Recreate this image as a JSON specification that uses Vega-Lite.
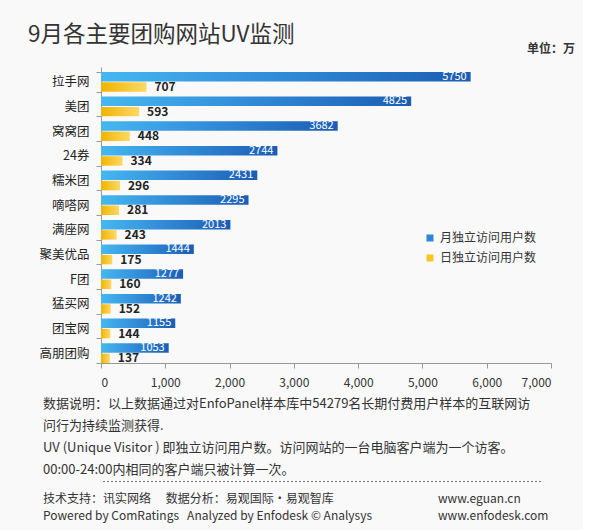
{
  "$schema": "https://vega.github.io/schema/vega-lite/v6.json",
  "background": "#f9f9f9",
  "padding": {"left": 27, "top": 23, "right": 8, "bottom": 4},
  "title": {"text": "9月各主要团购网站UV监测", "anchor": "start", "fontSize": 22.5, "font": "Noto Sans CJK SC", "fontWeight": "normal", "color": "#333333", "dx": -11, "offset": -3},
  "spacing": 0,
  "vconcat": [
    {
      "width": 450,
      "height": 296,
      "title": {"text": "单位：万", "anchor": "end", "frame": "group", "fontSize": 12, "fontWeight": "bold", "color": "#333333", "dx": 24, "offset": 5},
      "data": {"values": [
        {"site": "拉手网", "series": "月独立访问用户数", "value": 5750},
        {"site": "拉手网", "series": "日独立访问用户数", "value": 707},
        {"site": "美团", "series": "月独立访问用户数", "value": 4825},
        {"site": "美团", "series": "日独立访问用户数", "value": 593},
        {"site": "窝窝团", "series": "月独立访问用户数", "value": 3682},
        {"site": "窝窝团", "series": "日独立访问用户数", "value": 448},
        {"site": "24券", "series": "月独立访问用户数", "value": 2744},
        {"site": "24券", "series": "日独立访问用户数", "value": 334},
        {"site": "糯米团", "series": "月独立访问用户数", "value": 2431},
        {"site": "糯米团", "series": "日独立访问用户数", "value": 296},
        {"site": "嘀嗒网", "series": "月独立访问用户数", "value": 2295},
        {"site": "嘀嗒网", "series": "日独立访问用户数", "value": 281},
        {"site": "满座网", "series": "月独立访问用户数", "value": 2013},
        {"site": "满座网", "series": "日独立访问用户数", "value": 243},
        {"site": "聚美优品", "series": "月独立访问用户数", "value": 1444},
        {"site": "聚美优品", "series": "日独立访问用户数", "value": 175},
        {"site": "F团", "series": "月独立访问用户数", "value": 1277},
        {"site": "F团", "series": "日独立访问用户数", "value": 160},
        {"site": "猛买网", "series": "月独立访问用户数", "value": 1242},
        {"site": "猛买网", "series": "日独立访问用户数", "value": 152},
        {"site": "团宝网", "series": "月独立访问用户数", "value": 1155},
        {"site": "团宝网", "series": "日独立访问用户数", "value": 144},
        {"site": "高朋团购", "series": "月独立访问用户数", "value": 1053},
        {"site": "高朋团购", "series": "日独立访问用户数", "value": 137}
      ]},
      "encoding": {
        "y": {
          "field": "site", "type": "nominal", "sort": null,
          "scale": {"paddingInner": 0.2, "paddingOuter": 0.1, "align": 1},
          "axis": {"title": null, "labelFontSize": 12.5, "labelColor": "#222222", "domainColor": "#999999", "tickColor": "#999999", "tickSize": 5, "tickBand": "extent", "labelPadding": 7}
        },
        "x": {
          "field": "value", "type": "quantitative",
          "scale": {"domain": [0, 7000], "nice": false},
          "axis": {"title": null, "format": ",d", "values": [0, 1000, 2000, 3000, 4000, 5000, 6000, 7000], "grid": false, "labelFontSize": 12, "labelColor": "#333333", "domainColor": "#999999", "tickColor": "#999999", "tickSize": 5, "labelPadding": 9}
        },
        "yOffset": {"field": "series", "type": "nominal", "scale": {"domain": ["月独立访问用户数", "日独立访问用户数"], "paddingInner": 0.08}}
      },
      "layer": [
        {
          "transform": [{"filter": "datum.value < 0"}],
          "mark": {"type": "bar"},
          "encoding": {
            "color": {
              "field": "series", "type": "nominal",
              "scale": {"domain": ["月独立访问用户数", "日独立访问用户数"], "range": ["#2f86d6", "#f5c425"]},
              "legend": {"orient": "none", "legendX": 323, "legendY": 165, "title": null, "symbolType": "square", "symbolSize": 49, "symbolStrokeWidth": 0, "labelFontSize": 12, "labelColor": "#333333", "rowPadding": 8}
            }
          }
        },
        {
          "transform": [{"filter": "datum.series === '月独立访问用户数'"}],
          "mark": {"type": "bar", "color": {"gradient": "linear", "x1": 0, "x2": 1, "y1": 0, "y2": 0, "stops": [{"offset": 0, "color": "#45b8f0"}, {"offset": 0.4, "color": "#3592dc"}, {"offset": 1, "color": "#1b5db4"}]}}
        },
        {
          "transform": [{"filter": "datum.series === '日独立访问用户数'"}],
          "mark": {"type": "bar", "color": {"gradient": "linear", "x1": 0, "x2": 1, "y1": 0, "y2": 0, "stops": [{"offset": 0, "color": "#f0b400"}, {"offset": 1, "color": "#fdd865"}]}}
        },
        {
          "transform": [{"filter": "datum.series === '月独立访问用户数'"}],
          "mark": {"type": "text", "align": "right", "baseline": "middle", "dx": -4, "fontSize": 11, "color": "#ffffff"},
          "encoding": {"text": {"field": "value", "type": "quantitative", "format": "d"}}
        },
        {
          "transform": [{"filter": "datum.series === '日独立访问用户数'"}],
          "mark": {"type": "text", "align": "left", "baseline": "middle", "dx": 8, "fontSize": 12, "fontWeight": "bold", "color": "#222222"},
          "encoding": {"text": {"field": "value", "type": "quantitative", "format": "d"}}
        }
      ]
    },
    {
      "width": 440,
      "height": 138,
      "data": {"values": [
        {"line": 1, "col": "left", "size": "big", "text": "数据说明：以上数据通过对EnfoPanel样本库中54279名长期付费用户样本的互联网访"},
        {"line": 2, "col": "left", "size": "big", "text": "问行为持续监测获得."},
        {"line": 3, "col": "left", "size": "big", "text": "UV (Unique Visitor ) 即独立访问用户数。访问网站的一台电脑客户端为一个访客。"},
        {"line": 4, "col": "left", "size": "big", "text": "00:00-24:00内相同的客户端只被计算一次。"},
        {"line": 5.3, "col": "left", "size": "small", "text": "技术支持：讯实网络　 数据分析：易观国际·易观智库"},
        {"line": 5.28, "col": "right", "size": "small", "text": "www.eguan.cn"},
        {"line": 6.05, "col": "left", "size": "small", "text": "Powered by ComRatings\u00a0\u00a0\u00a0Analyzed by Enfodesk © Analysys"},
        {"line": 6.05, "col": "right", "size": "small", "text": "www.enfodesk.com"}
      ]},
      "layer": [
        {
          "mark": {"type": "text", "align": "left", "baseline": "middle", "color": "#333333"},
          "encoding": {
            "x": {"field": "col", "type": "nominal", "scale": {"type": "point", "domain": ["left", "right"], "range": [-58, 337], "padding": 0}, "axis": null},
            "y": {"field": "line", "type": "quantitative", "scale": {"domain": [0.3, 6.5], "nice": false, "reverse": true}, "axis": null},
            "size": {"field": "size", "type": "nominal", "scale": {"domain": ["big", "small"], "range": [13, 12]}, "legend": null},
            "text": {"field": "text"}
          }
        },
        {
          "data": {"values": [{"line": 4.5}]},
          "mark": {"type": "rule", "strokeDash": [2, 2], "strokeWidth": 1, "color": "#777777"},
          "encoding": {
            "y": {"field": "line", "type": "quantitative"}
          }
        }
      ]
    }
  ],
  "config": {
    "view": {"stroke": null},
    "font": "Noto Sans CJK SC"
  }
}
